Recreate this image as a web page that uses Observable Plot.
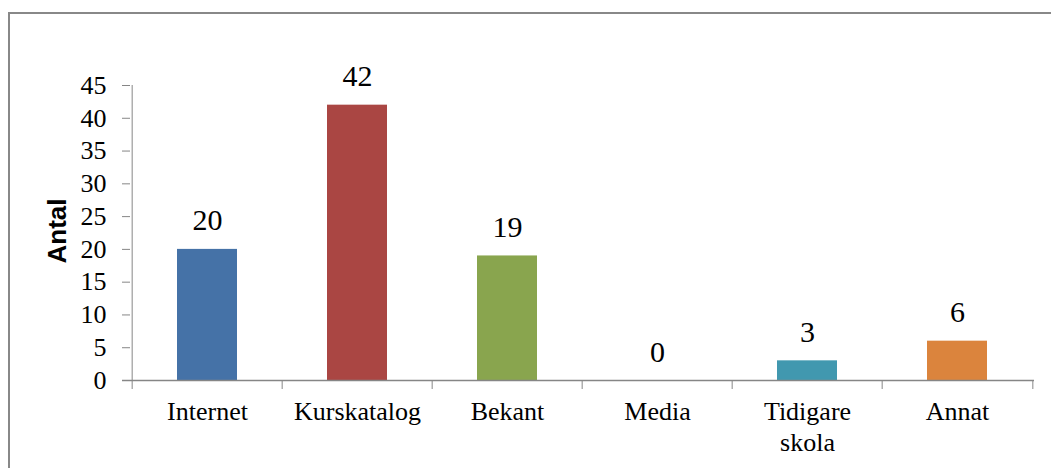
<!DOCTYPE html>
<html>
<head>
<meta charset="utf-8">
<script src="https://cdn.jsdelivr.net/npm/d3@7"></script>
<script src="https://cdn.jsdelivr.net/npm/@observablehq/plot@0.6"></script>
<style>
  html, body { margin: 0; padding: 0; background: white; }
  #wrap { position: relative; width: 1051px; height: 468px; overflow: hidden; }
  #frame { position: absolute; left: 8px; top: 12px; width: 1100px; height: 500px;
           border-top: 2px solid #888888; border-left: 2px solid #888888; pointer-events: none; }
</style>
</head>
<body>
<div id="wrap"><div id="frame"></div></div>
<script>
const categories = ["Internet", "Kurskatalog", "Bekant", "Media", "Tidigare skola", "Annat"];
const tickLabels = ["Internet", "Kurskatalog", "Bekant", "Media", "Tidigare\nskola", "Annat"];
const values = [20, 42, 19, 0, 3, 6];
const colors = ["#4572A7", "#AA4643", "#89A54E", "#71588F", "#4198AF", "#DB843D"];
const yTicks = [0, 5, 10, 15, 20, 25, 30, 35, 40, 45];

const data = categories.map((c, i) => ({cat: c, label: tickLabels[i], value: values[i], color: colors[i]}));

const W = 1051, H = 468;
const mL = 130, mR = 17, mT = 85, mB = 88;
const step = (W - mL - mR) / categories.length;
const axisColor = "#868686";
const serif = "Liberation Serif";

const chart = Plot.plot({
  width: W,
  height: H,
  marginLeft: mL,
  marginRight: mR,
  marginTop: mT,
  marginBottom: mB,
  style: {background: "transparent", overflow: "visible", fontFamily: serif},
  x: {domain: categories, paddingInner: 0.6, paddingOuter: 0.3, axis: null},
  y: {domain: [0, 45], axis: null},
  marks: [
    Plot.barY(data, {x: "cat", y: "value", fill: "color"}),
    Plot.ruleX([categories[0]], {x: d => d, dx: -step / 2, y1: 0, y2: 45, stroke: axisColor, strokeWidth: 1}),
    Plot.axisY({ticks: yTicks, tickSize: 8, tickPadding: 16, stroke: axisColor, fill: "black",
      fontSize: 26, fontFamily: serif, label: null}),
    Plot.ruleY([0], {stroke: axisColor, strokeWidth: 1.5, insetLeft: -8}),
    Plot.ruleX(categories, {x: d => d, dx: -step / 2, y1: 0, y2: 0, insetBottom: -9, stroke: axisColor}),
    Plot.ruleX([categories[categories.length - 1]], {x: d => d, dx: step / 2, y1: 0, y2: 0, insetBottom: -9, stroke: axisColor}),
    Plot.text(data, {x: "cat", y: () => 0, text: "label", lineAnchor: "top", lineHeight: 1.2, dy: 17.5,
      fontSize: 26, fontFamily: serif, fill: "black"}),
    Plot.text(data, {x: "cat", y: "value", text: d => String(d.value), lineAnchor: "bottom", dy: -19,
      fontSize: 30, fontFamily: serif, fill: "black"}),
    Plot.text(["Antal"], {frameAnchor: "left", textAnchor: "middle", lineAnchor: "middle", rotate: -90,
      dx: -73, dy: -2, text: d => d,
      fontSize: 26, fontWeight: "bold", fontFamily: "Liberation Sans", fill: "black"})
  ]
});
chart.style.position = "absolute";
chart.style.left = "0px";
chart.style.top = "0px";
document.getElementById("wrap").prepend(chart);
</script>
</body>
</html>
